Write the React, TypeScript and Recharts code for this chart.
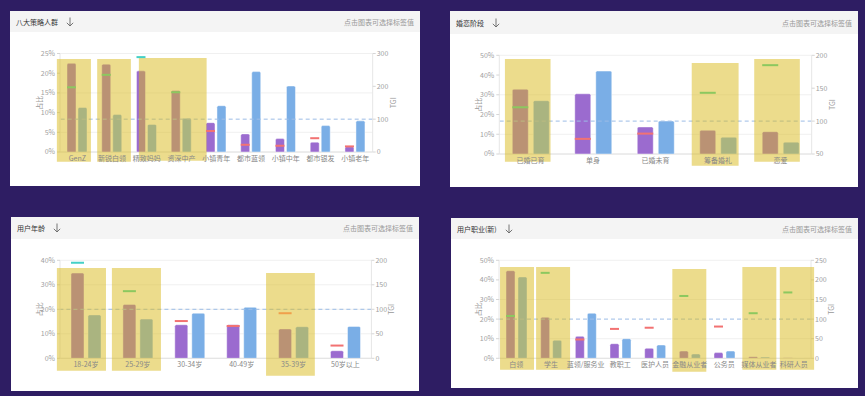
import React from 'react';
import {
  ComposedChart,
  Bar,
  XAxis,
  YAxis,
  CartesianGrid,
  ReferenceLine,
  ReferenceArea,
  Label,
} from 'recharts';

// ---------------- data ----------------
// Panel 1
const p1Title = '八大策略人群';
const p1Categories = ['GenZ', '新锐白领', '精致妈妈', '资深中产', '小镇青年', '都市蓝领', '小镇中年', '都市银发', '小镇老年'];
const p1Share = [22.5, 22.3, 20.6, 15.6, 7.45, 4.6, 3.4, 2.5, 1.35];
const p1Base = [11.3, 9.5, 7.0, 8.55, 11.75, 20.4, 16.75, 6.7, 7.9];
const p1Tgi = [197, 235, 289, 182, 64, 22, 19, 42, 17];
const p1ShareTicks = [0, 5, 10, 15, 20, 25];
const p1TgiTicks = [0, 100, 200, 300];
const p1Highlights = [
  [-0.09, 0.89, -2.46, 23.6],
  [1.07, 2.04, -2.46, 23.6],
  [2.27, 4.22, -2.2, 23.86],
];

// Panel 2
const p2Title = '婚恋阶段';
const p2Categories = ['已婚已育', '单身', '已婚未育', '筹备婚礼', '恋爱'];
const p2Share = [32.8, 30.5, 13.7, 12.0, 11.3];
const p2Base = [27.0, 42.0, 16.7, 8.5, 6.0];
const p2Tgi = [121, 73, 81, 143, 185];
const p2ShareTicks = [0, 10, 20, 30, 40, 50];
const p2TgiTicks = [50, 100, 150, 200];
const p2Highlights = [
  [0.09, 0.82, -3.9, 48.1],
  [3.08, 3.83, -5.9, 46.1],
  [4.08, 4.81, -3.9, 48.1],
];

// Panel 3
const p3Title = '用户年龄';
const p3Categories = ['18-24岁', '25-29岁', '30-34岁', '40-49岁', '35-39岁', '50岁以上'];
const p3Share = [34.8, 22.0, 13.7, 13.7, 12.0, 3.1];
const p3Base = [17.7, 16.0, 18.4, 20.8, 12.9, 13.0];
const p3Tgi = [195, 137, 76, 66, 92, 26];
const p3ShareTicks = [0, 10, 20, 30, 40];
const p3TgiTicks = [0, 50, 100, 150, 200];
const p3Highlights = [
  [-0.06, 0.886, -5.05, 36.85],
  [1.0, 1.945, -5.05, 36.85],
  [3.97, 4.91, -7.1, 34.8],
];

// Panel 4
const p4Title = '用户职业(新)';
const p4Categories = ['白领', '学生', '蓝领/服务业', '教职工', '医护人员', '金融从业者', '公务员', '媒体从业者', '科研人员'];
const p4Share = [44.7, 20.9, 11.2, 7.45, 5.1, 3.7, 2.9, 0.8, 0.3];
const p4Base = [41.5, 9.2, 23.0, 10.0, 6.8, 2.2, 3.7, 0.6, 0.2];
const p4Tgi = [108, 218, 48, 75, 78, 159, 81, 115, 168];
const p4ShareTicks = [0, 10, 20, 30, 40, 50];
const p4TgiTicks = [0, 50, 100, 150, 200, 250];
const p4Highlights = [
  [0.03, 1.01, -5.8, 46.6],
  [1.07, 2.05, -5.8, 46.6],
  [5.0, 5.98, -6.8, 45.6],
  [7.02, 8.0, -5.8, 46.6],
  [8.1, 9.09, -5.8, 46.6],
];

// ---------------- styles ----------------
const FONT = '"Noto Sans CJK SC", "Noto Sans", sans-serif';
const PURPLE = '#9b6bcf';
const BLUE = '#7aaee6';
const HILITE = '#d9b919';
const TONES: Record<string, string> = {
  green: '#8cc85f',
  red: '#f27272',
  cyan: '#45d0c6',
  orange: '#f0a04c',
};
const p1Tones = ['green', 'green', 'cyan', 'green', 'red', 'red', 'red', 'red', 'red'];
const p2Tones = ['green', 'red', 'red', 'green', 'green'];
const p3Tones = ['cyan', 'green', 'red', 'red', 'orange', 'red'];
const p4Tones = ['green', 'green', 'red', 'red', 'red', 'green', 'red', 'green', 'green'];

type PanelCfg = {
  title: string;
  categories: string[];
  share: number[];
  base: number[];
  tgi: number[];
  shareTicks: number[];
  tgiTicks: number[];
  highlights: number[][];
  tones: string[];
  layout: {
    left: number;
    top: number;
    width: number;
    height: number;
    headerH: number;
    plotTop: number;
    plotBottom: number;
    leftW: number;
    rightW: number;
    barSize: number;
    barGap: number;
  };
};

const panels: PanelCfg[] = [
  {
    title: p1Title, categories: p1Categories, share: p1Share, base: p1Base, tgi: p1Tgi,
    shareTicks: p1ShareTicks, tgiTicks: p1TgiTicks, highlights: p1Highlights, tones: p1Tones,
    layout: { left: 10, top: 11, width: 410, height: 175, headerH: 21, plotTop: 21.5, plotBottom: 120, leftW: 50, rightW: 47.3, barSize: 9, barGap: 2 },
  },
  {
    title: p2Title, categories: p2Categories, share: p2Share, base: p2Base, tgi: p2Tgi,
    shareTicks: p2ShareTicks, tgiTicks: p2TgiTicks, highlights: p2Highlights, tones: p2Tones,
    layout: { left: 450, top: 11, width: 408, height: 176, headerH: 23, plotTop: 21.3, plotBottom: 120, leftW: 49.3, rightW: 46.3, barSize: 16, barGap: 5 },
  },
  {
    title: p3Title, categories: p3Categories, share: p3Share, base: p3Base, tgi: p3Tgi,
    shareTicks: p3ShareTicks, tgiTicks: p3TgiTicks, highlights: p3Highlights, tones: p3Tones,
    layout: { left: 11, top: 217, width: 408, height: 174, headerH: 22, plotTop: 21.3, plotBottom: 119.3, leftW: 49, rightW: 47.6, barSize: 13, barGap: 4 },
  },
  {
    title: p4Title, categories: p4Categories, share: p4Share, base: p4Base, tgi: p4Tgi,
    shareTicks: p4ShareTicks, tgiTicks: p4TgiTicks, highlights: p4Highlights, tones: p4Tones,
    layout: { left: 451, top: 218, width: 407, height: 170, headerH: 21, plotTop: 21.3, plotBottom: 119.3, leftW: 48, rightW: 47, barSize: 9, barGap: 3 },
  },
];

const MarkerShape = (props: any) => {
  const { x, y, width, payload } = props;
  if (x == null || y == null) return null;
  return <rect x={x} y={y - 1} width={width} height={2} fill={TONES[payload.tone]} />;
};

const leftTitle = (props: any) => {
  const vb = props.viewBox || {};
  const x = vb.x + vb.width - 21;
  const y = vb.y + vb.height / 2;
  return (
    <text x={x} y={y} transform={`rotate(-90 ${x} ${y})`} textAnchor="middle" dominantBaseline="central" fontSize={7} fill="#999">
      占比
    </text>
  );
};

const rightTitle = (props: any) => {
  const vb = props.viewBox || {};
  const x = vb.x + 20;
  const y = vb.y + vb.height / 2;
  return (
    <text x={x} y={y} transform={`rotate(-90 ${x} ${y})`} textAnchor="middle" dominantBaseline="central" fontSize={7} fill="#999">
      TGI
    </text>
  );
};

const DownArrow = () => (
  <svg width={8} height={10} viewBox="0 0 8 10" style={{ marginLeft: 8, display: 'block' }}>
    <path d="M4 0.5 V9 M0.8 5.8 L4 9 L7.2 5.8" stroke="#666" strokeWidth={0.9} fill="none" />
  </svg>
);

function Panel({ cfg }: { cfg: PanelCfg }) {
  const L = cfg.layout;
  const data = cfg.categories.map((name, i) => ({
    name,
    slot: i + 0.5,
    share: cfg.share[i],
    base: cfg.base[i],
    tgi: cfg.tgi[i],
    tone: cfg.tones[i],
  }));
  const n = data.length;
  const chartH = L.height - L.headerH;
  const shareMax = cfg.shareTicks[cfg.shareTicks.length - 1];
  const tgiMin = cfg.tgiTicks[0];
  const tgiMax = cfg.tgiTicks[cfg.tgiTicks.length - 1];
  return (
    <div
      style={{
        position: 'absolute',
        left: L.left,
        top: L.top,
        width: L.width,
        height: L.height,
        background: '#ffffff',
        overflow: 'hidden',
      }}
    >
      <div
        style={{
          height: L.headerH,
          background: '#f4f4f4',
          display: 'flex',
          alignItems: 'center',
          padding: '0 6px',
          boxSizing: 'border-box',
          fontSize: 7,
        }}
      >
        <span style={{ color: '#333' }}>{cfg.title}</span>
        <DownArrow />
        <span style={{ color: '#999', marginLeft: 'auto' }}>点击图表可选择标签值</span>
      </div>
      <ComposedChart
        width={L.width}
        height={chartH}
        data={data}
        margin={{ top: L.plotTop, right: 0, bottom: 0, left: 0 }}
        barSize={L.barSize}
        barGap={L.barGap}
      >
        <CartesianGrid xAxisId="cat" yAxisId="left" vertical={false} stroke="#f0f0f0" />
        <XAxis
          xAxisId="cat"
          dataKey="name"
          height={chartH - L.plotBottom}
          axisLine={{ stroke: '#e2e2e2' }}
          tickLine={false}
          tickSize={2}
          tickMargin={2}
          interval={0}
          tick={{ fontSize: 7, fill: '#888' }}
          zIndex={200}
        />
        <XAxis xAxisId="mark" dataKey="name" hide />
        <XAxis xAxisId="num" dataKey="slot" type="number" domain={[0, n]} allowDataOverflow hide />
        <YAxis
          yAxisId="left"
          width={L.leftW}
          domain={[0, shareMax]}
          ticks={cfg.shareTicks}
          allowDataOverflow
          tickFormatter={(v: number) => `${v}%`}
          axisLine={{ stroke: '#e6e6e6' }}
          tickLine={{ stroke: '#d6d6d6' }}
          tickSize={3}
          tickMargin={2}
          tick={{ fontSize: 7, fill: '#a0a0a0' }}
          label={<Label content={leftTitle} />}
        />
        <YAxis
          yAxisId="right"
          orientation="right"
          width={L.rightW}
          domain={[tgiMin, tgiMax]}
          ticks={cfg.tgiTicks}
          allowDataOverflow
          axisLine={{ stroke: '#e6e6e6' }}
          tickLine={{ stroke: '#d6d6d6' }}
          tickSize={3}
          tickMargin={1}
          tick={{ fontSize: 7, fill: '#a0a0a0' }}
          label={<Label content={rightTitle} />}
        />
        <Bar
          xAxisId="cat"
          yAxisId="left"
          dataKey="share"
          fill={PURPLE}
          stroke="#ffffff"
          strokeOpacity={0.45}
          strokeWidth={1}
          radius={[1.5, 1.5, 0, 0]}
          isAnimationActive={false}
          zIndex={300}
        />
        <Bar
          xAxisId="cat"
          yAxisId="left"
          dataKey="base"
          fill={BLUE}
          stroke="#ffffff"
          strokeOpacity={0.45}
          strokeWidth={1}
          radius={[1.5, 1.5, 0, 0]}
          isAnimationActive={false}
          zIndex={300}
        />
        <ReferenceLine
          xAxisId="cat"
          yAxisId="right"
          y={100}
          stroke="#9dbde6"
          strokeDasharray="4 3"
          strokeWidth={1}
          zIndex={350}
        />
        {cfg.highlights.map((h, i) => (
          <ReferenceArea
            key={i}
            xAxisId="num"
            yAxisId="left"
            x1={h[0]}
            x2={h[1]}
            y1={h[2]}
            y2={h[3]}
            fill={HILITE}
            fillOpacity={0.5}
            stroke="none"
            ifOverflow="visible"
            zIndex={600}
          />
        ))}
        <Bar
          xAxisId="mark"
          yAxisId="right"
          dataKey="tgi"
          shape={MarkerShape}
          isAnimationActive={false}
          zIndex={700}
        />
        <Bar
          xAxisId="mark"
          yAxisId="left"
          dataKey="base"
          fill="transparent"
          isAnimationActive={false}
          zIndex={700}
        />
      </ComposedChart>
    </div>
  );
}

export default function App() {
  return (
    <div
      style={{
        position: 'absolute',
        left: 0,
        top: 0,
        width: 865,
        height: 396,
        background: '#2e1d63',
        fontFamily: FONT,
        overflow: 'hidden',
      }}
    >
      {panels.map((p, i) => (
        <Panel key={i} cfg={p} />
      ))}
    </div>
  );
}
